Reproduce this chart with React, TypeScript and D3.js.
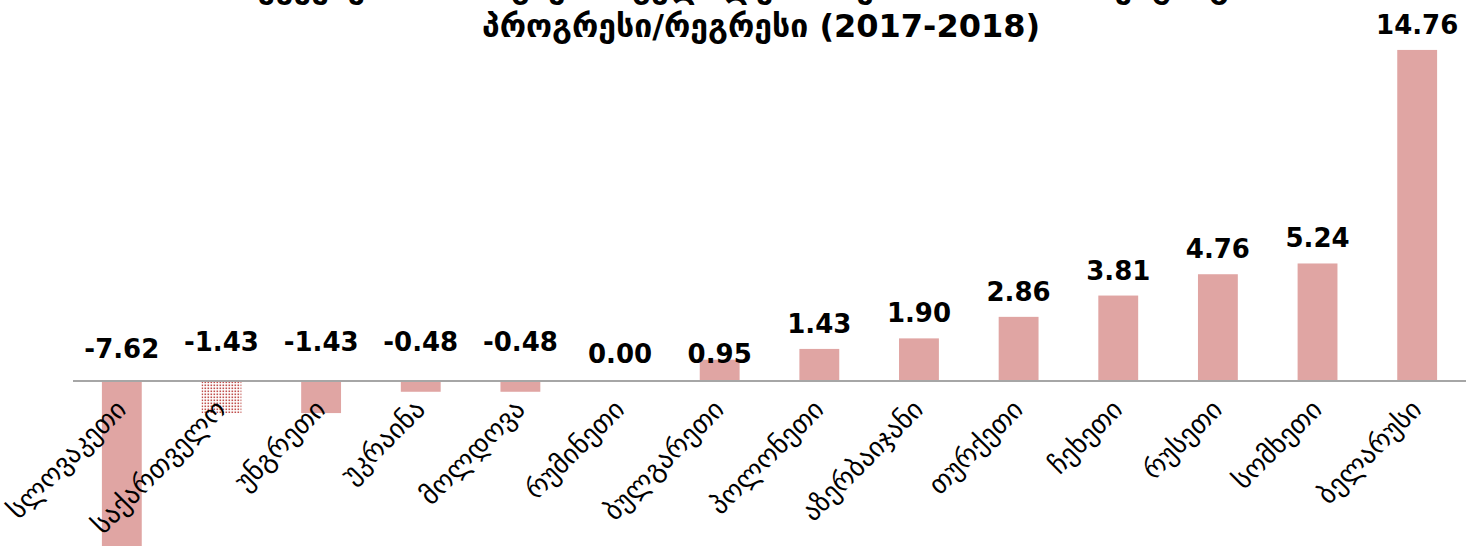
import React from "react";
import * as d3 from "d3";

const categories = [
  "სლოვაკეთი",
  "საქართველო",
  "უნგრეთი",
  "უკრაინა",
  "მოლდოვა",
  "რუმინეთი",
  "ბულგარეთი",
  "პოლონეთი",
  "აზერბაიჯანი",
  "თურქეთი",
  "ჩეხეთი",
  "რუსეთი",
  "სომხეთი",
  "ბელარუსი",
];
const values = [-7.62, -1.43, -1.43, -0.48, -0.48, 0.0, 0.95, 1.43, 1.9, 2.86, 3.81, 4.76, 5.24, 14.76];
const highlighted = ["საქართველო"];
const titleLines = [
  "ქვეყნების პოზიციების ცვლილება საერთაშორისო რეიტინგში",
  "პროგრესი/რეგრესი (2017-2018)",
];

const W = 1475;
const H = 546;
const BAR = "#e0a5a3";
const DOT = "#c0504d";

const App = () => {
  const x = d3.scaleBand<string>().domain(categories).range([72, 1467]).paddingInner(0.6).paddingOuter(0.3);
  const y = d3.scaleLinear().domain([-8, 15]).range([381 + 8 * 22.43, 381 - 15 * 22.43]);
  const y0 = y(0);
  const fmt = (v: number) => v.toFixed(2);

  // where the value label sits (small bars get pushed to a fixed spot above the axis)
  const labelY = (v: number) => {
    if (v < -5) return y0 - 23;
    if (v < 0) return y0 - 30;
    if (v < 1.2) return y0 - 18;
    return y(v) - 16;
  };

  return (
    <svg width={W} height={H} style={{ position: "absolute", left: 0, top: 0, background: "#fff" }}>
      <defs>
        <pattern id="dots" width={3} height={3} patternUnits="userSpaceOnUse">
          <rect width={3} height={3} fill="#fff" />
          <rect x={0.5} y={0.5} width={1.6} height={1.6} fill={DOT} />
        </pattern>
      </defs>

      <text
        x={761}
        y={37}
        textAnchor="middle"
        fontFamily="DejaVu Sans"
        fontWeight="bold"
        fontSize={32}
        fill="#000"
      >
        <tspan x={761} dy={-39}>{titleLines[0]}</tspan>
        <tspan x={761} dy={39}>{titleLines[1]}</tspan>
      </text>

      {categories.map((c, i) => {
        const v = values[i];
        return (
          <rect
            key={c}
            x={x(c)}
            width={x.bandwidth()}
            y={Math.min(y(v), y0)}
            height={Math.abs(y(v) - y0)}
            fill={highlighted.includes(c) ? "url(#dots)" : BAR}
          />
        );
      })}

      <line x1={x.range()[0] + 1} x2={x.range()[1] - 1} y1={y0} y2={y0} stroke="#a6a6a6" strokeWidth={2} />

      {categories.map((c, i) => {
        const cx = (x(c) as number) + x.bandwidth() / 2;
        return (
          <text
            key={"v" + c}
            x={cx}
            y={labelY(values[i])}
            textAnchor="middle"
            fontFamily="DejaVu Sans"
            fontWeight="bold"
            fontSize={26}
            fill="#000"
          >
            {fmt(values[i])}
          </text>
        );
      })}

      {categories.map((c) => {
        const cx = (x(c) as number) + x.bandwidth() / 2;
        return (
          <text
            key={"c" + c}
            transform={`translate(${cx + 6},${y0 + 30}) rotate(-45)`}
            textAnchor="end"
            fontFamily="DejaVu Sans"
            fontSize={27}
            fill="#000"
          >
            {c}
          </text>
        );
      })}
    </svg>
  );
};

export default App;
